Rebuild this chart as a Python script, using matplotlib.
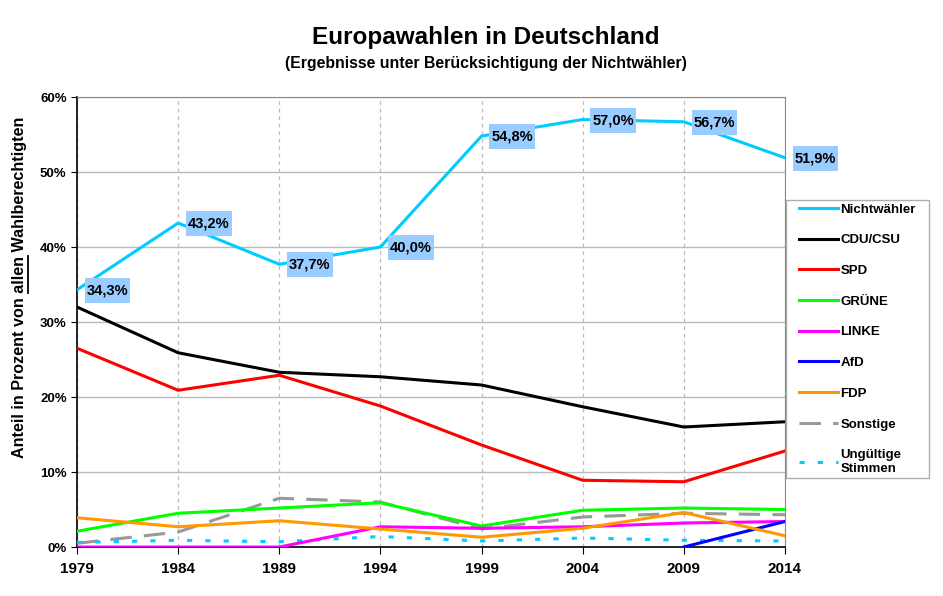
import matplotlib.pyplot as plt
from matplotlib.lines import Line2D
from matplotlib.path import Path
import numpy as np

plt.rcParams['font.family'] = ['Liberation Sans', 'DejaVu Sans']
plt.rcParams['font.weight'] = 'bold'

# Wahljahre
jahre = [1979, 1984, 1989, 1994, 1999, 2004, 2009, 2014]

# Anteile in % aller Wahlberechtigten
nichtwaehler = [34.3, 43.2, 37.7, 40.0, 54.8, 57.0, 56.7, 51.9]
cdu_csu = [32.0, 25.9, 23.3, 22.7, 21.6, 18.7, 16.0, 16.7]
spd = [26.5, 20.9, 22.9, 18.8, 13.6, 8.9, 8.7, 12.8]
gruene = [2.1, 4.5, 5.2, 5.9, 2.8, 4.9, 5.2, 5.0]
linke = [0.0, 0.0, 0.0, 2.7, 2.5, 2.7, 3.2, 3.4]
afd = [np.nan, np.nan, np.nan, np.nan, np.nan, np.nan, 0.0, 3.4]
fdp = [3.9, 2.7, 3.5, 2.4, 1.3, 2.5, 4.6, 1.5]
sonstige = [0.5, 2.0, 6.5, 6.0, 2.4, 4.0, 4.5, 4.3]
ungueltig = [0.6, 0.9, 0.7, 1.4, 0.8, 1.2, 0.9, 0.8]


def kasten(px, py):
    # Rechteck mit getrenntem Rand links/rechts und oben/unten (Pixel)
    def f(x0, y0, w, h, ms):
        x0, x1 = x0 - px, x0 + w + px
        y0, y1 = y0 - py, y0 + h + py
        return Path([(x0, y0), (x1, y0), (x1, y1), (x0, y1), (x0, y0)], closed=True)
    return f


fig = plt.figure(figsize=(9.43, 5.96), dpi=100)
ax = fig.add_axes([0.0817, 0.0822, 0.7507, 0.755])

lw = 2.2
ax.plot(jahre, nichtwaehler, color='#00CCFF', lw=lw, label='Nichtwähler', zorder=5)
ax.plot(jahre, cdu_csu, color='black', lw=lw, label='CDU/CSU', zorder=5)
ax.plot(jahre, spd, color='#FF0000', lw=lw, label='SPD', zorder=5)
ax.plot(jahre, gruene, color='#00FF00', lw=lw, label='GRÜNE', zorder=4)
ax.plot(jahre, linke, color='#FF00FF', lw=lw, label='LINKE', zorder=4)
ax.plot(jahre, afd, color='#0000FF', lw=lw, label='AfD', zorder=4)
ax.plot(jahre, fdp, color='#FF9900', lw=lw, label='FDP', zorder=4)
ax.plot(jahre, sonstige, color='#999999', lw=lw, dashes=(7, 4), label='Sonstige', zorder=3)
ax.plot(jahre, ungueltig, color='#00CCFF', lw=lw, dashes=(1.7, 4.3), label='Ungültige\nStimmen', zorder=3)

# Beschriftung Nichtwähler
for j, v in zip(jahre, nichtwaehler):
    ax.annotate(f'{v:.1f}%'.replace('.', ','), (j, v), xytext=(7, -0.5), textcoords='offset points',
                ha='left', va='center', fontsize=10.5, fontweight='bold', zorder=10,
                bbox=dict(boxstyle=kasten(2, 5.5), fc='#99CCFF', ec='none'))

ax.set_xlim(1979, 2014)
ax.set_ylim(0, 60)
ax.set_xticks(jahre)
ax.set_yticks(range(0, 61, 10))
ax.set_yticklabels([f'{t}%' for t in range(0, 61, 10)])
ax.tick_params(axis='y', labelsize=9.5, length=4, direction='out')
ax.tick_params(axis='x', labelsize=11, length=5, direction='out', pad=6)

ax.grid(axis='y', color='#BBBBBB', lw=1, zorder=0)
ax.grid(axis='x', color='#BBBBBB', lw=0.9, ls=(0, (3, 3)), zorder=0)
ax.set_axisbelow(True)
ax.spines['top'].set_color('#888888')
ax.spines['right'].set_color('#888888')
ax.spines['left'].set_linewidth(1.2)
ax.spines['bottom'].set_linewidth(1.2)

# y-Achsentitel mit unterstrichenem "allen"
vorne = 'Anteil in Prozent von '
wort = 'allen'
hinten = ' Wahlberechtigten'
gr = 11.6
lx, ly = 0.021, 0.518
fig.text(lx, ly, vorne + wort + hinten, rotation=90, ha='center', va='center',
         fontsize=gr, fontweight='bold')
r = fig.canvas.get_renderer()
def breite(s):
    t = fig.text(0, 0, s, fontsize=gr, fontweight='bold')
    b = t.get_window_extent(r).width
    t.remove()
    return b
W = breite(vorne + wort + hinten)
p = breite(vorne)
w = breite(vorne + wort) - p
H = fig.get_figheight() * fig.dpi
Wf = fig.get_figwidth() * fig.dpi
y0 = ly - W / 2 / H + p / H
y1 = y0 + w / H
ux = lx + 8 / Wf
fig.add_artist(Line2D([ux, ux], [y0, y1], color='black', lw=1.3, transform=fig.transFigure))

fig.text(0.515, 0.937, 'Europawahlen in Deutschland', ha='center', va='center',
         fontsize=17.5, fontweight='bold')
fig.text(0.515, 0.893, '(Ergebnisse unter Berücksichtigung der Nichtwähler)', ha='center',
         va='center', fontsize=11.4, fontweight='bold')

leg = fig.legend(loc='upper left', bbox_to_anchor=(0.8441, 0.6644), borderaxespad=0,
                 fontsize=9.5, handlelength=2.9, handletextpad=0.2, labelspacing=1.4,
                 borderpad=0.25, frameon=True, fancybox=False)
leg.get_frame().set_boxstyle(kasten(10, 0))
leg.get_frame().set_edgecolor('#999999')
leg.get_frame().set_linewidth(1)

plt.savefig('out.png', dpi=100)
